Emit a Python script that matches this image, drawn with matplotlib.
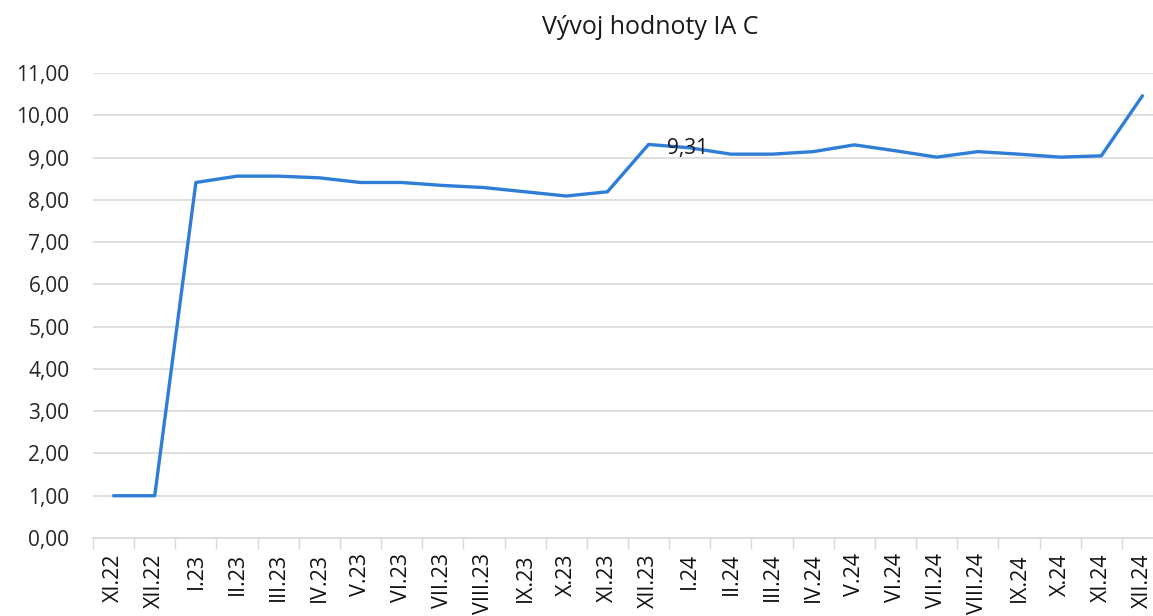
import matplotlib
matplotlib.use('Agg')
import matplotlib.pyplot as plt
from matplotlib.ticker import FuncFormatter

# Monate und Werte
mesice = ['XI.22', 'XII.22', 'I.23', 'II.23', 'III.23', 'IV.23', 'V.23', 'VI.23',
          'VII.23', 'VIII.23', 'IX.23', 'X.23', 'XI.23', 'XII.23', 'I.24', 'II.24',
          'III.24', 'IV.24', 'V.24', 'VI.24', 'VII.24', 'VIII.24', 'IX.24', 'X.24',
          'XI.24', 'XII.24']
hodnoty = [1.00, 1.00, 8.41, 8.56, 8.56, 8.52, 8.41, 8.41, 8.34, 8.29, 8.19, 8.09,
           8.19, 9.31, 9.23, 9.08, 9.08, 9.14, 9.30, 9.16, 9.01, 9.14, 9.08, 9.01,
           9.04, 10.46]
popisek_index = 13

plt.rcParams['font.family'] = ['Open Sans', 'DejaVu Sans']

fig = plt.figure(figsize=(11.53, 6.16), dpi=100)
ax = fig.add_axes([93 / 1153, 1 - 538 / 616, (1163 - 93) / 1153, (538 - 73) / 616])

x = list(range(len(mesice)))
ax.plot(x, hodnoty, color='#2e7dd7', linewidth=2.4, solid_capstyle='round', zorder=3)

# Beschriftung eines Punktes
ax.annotate(f'{hodnoty[popisek_index]:.2f}'.replace('.', ','),
            (x[popisek_index], hodnoty[popisek_index]),
            xytext=(13, -3), textcoords='offset points',
            ha='left', va='center', fontsize=15, color='#1a1a1a', zorder=4)

ax.set_xlim(-0.5, len(mesice) - 0.5)
ax.set_ylim(0, 11)
ax.set_yticks(range(0, 12))
ax.yaxis.set_major_formatter(FuncFormatter(lambda v, p: f'{v:.2f}'.replace('.', ',')))
ax.grid(axis='y', color='#d9d9d9', linewidth=1.2)
ax.set_axisbelow(True)

ax.set_xticks(x)
ax.set_xticklabels(mesice, rotation=90, va='top', ha='center')
ax.set_xticks([i - 0.5 for i in range(len(mesice) + 1)], minor=True)
ax.tick_params(axis='x', which='major', length=0, pad=11, labelsize=15.5, labelcolor='#111111')
ax.tick_params(axis='x', which='minor', length=8, width=1, color='#d9d9d9')
ax.tick_params(axis='y', length=0, pad=17, labelsize=15, labelcolor='#262626')

for s in ['top', 'right', 'left']:
    ax.spines[s].set_visible(False)
ax.spines['bottom'].set_color('#d9d9d9')
ax.spines['bottom'].set_linewidth(1.2)

fig.text(650 / 1153, 1 - 28 / 616, 'Vývoj hodnoty IA C', ha='center', va='center',
         fontsize=18, color='#1a1a1a')

fig.savefig('out.png', dpi=100)
